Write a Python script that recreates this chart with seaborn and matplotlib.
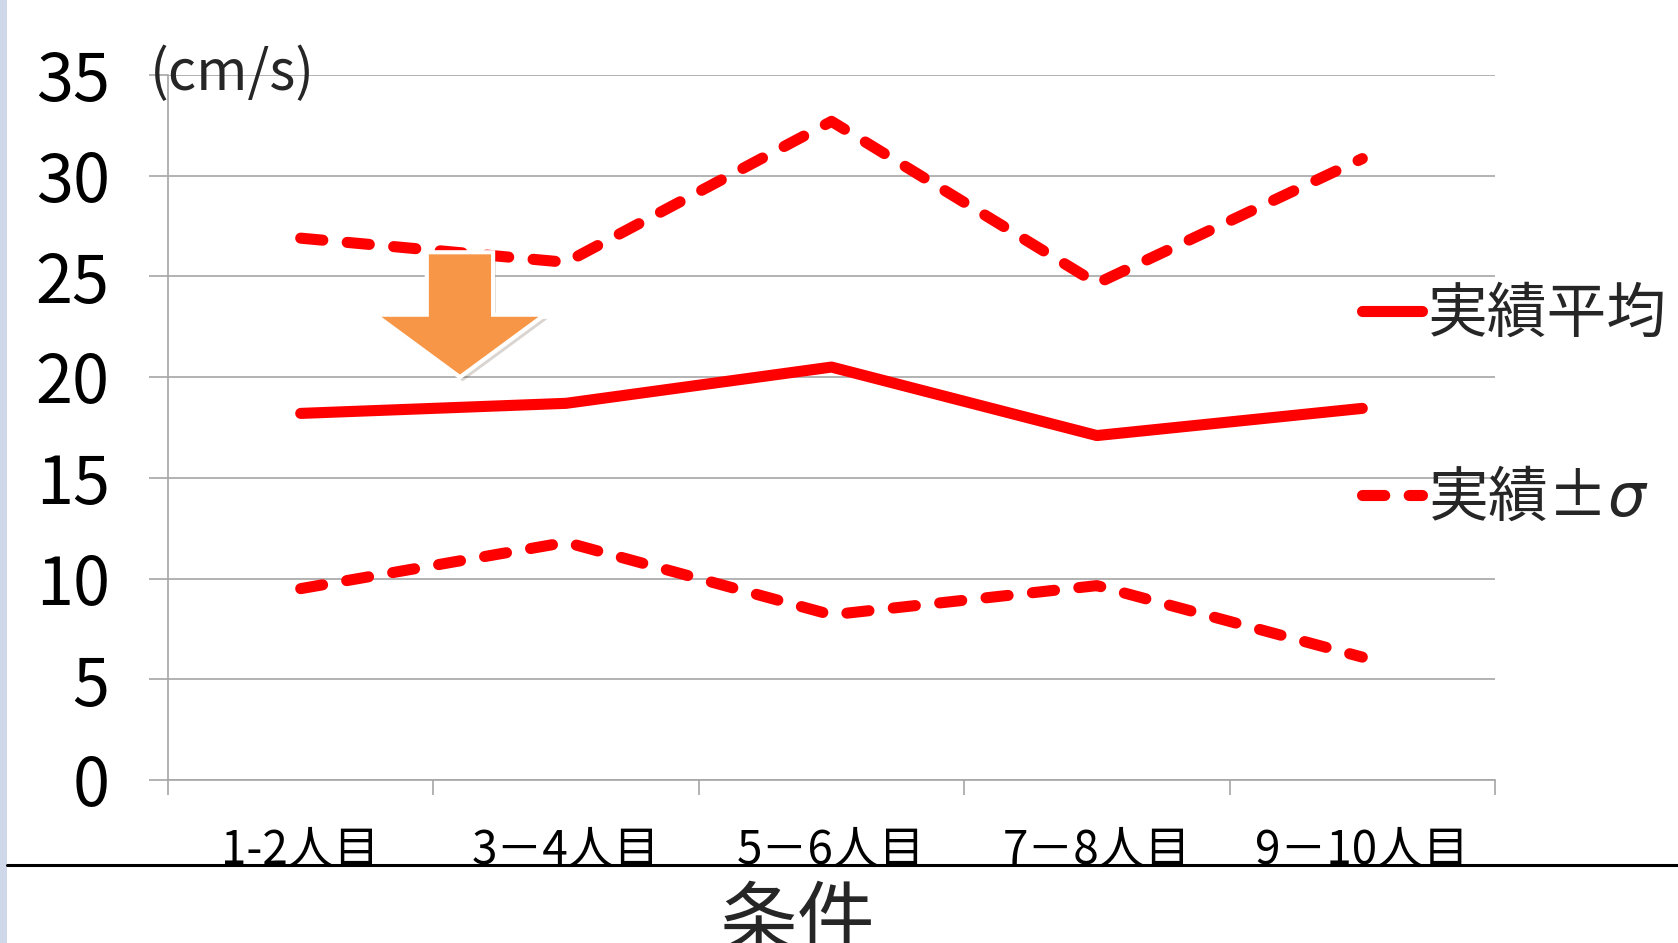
"""
Walking speed by order of arrival: mean and +/- sigma band.
"""

import matplotlib
matplotlib.use("Agg")
import matplotlib.pyplot as plt
import matplotlib.patheffects as pe
from matplotlib.lines import Line2D
from matplotlib.patches import FancyArrow, Rectangle
import numpy as np
import pandas as pd
import seaborn as sns

# ── Data ────────────────────────────────────────────────────────────────────
categories = ["1-2人目", "3－4人目", "5－6人目", "7－8人目", "9－10人目"]
mean_speed = [18.2, 18.7, 20.5, 17.1, 18.45]
upper_speed = [26.9, 25.7, 32.7, 24.65, 30.85]
lower_speed = [9.5, 11.8, 8.2, 9.65, 6.1]
y_ticks = [0, 5, 10, 15, 20, 25, 30, 35]

RED = "#FF0000"
GRID = "#A6A6A6"

sns.set_theme(style="white")
plt.rcParams["font.family"] = ["Noto Sans CJK JP", "DejaVu Sans"]
plt.rcParams["mathtext.fontset"] = "dejavusans"

W, H = 1678, 943
fig = plt.figure(figsize=(W / 100, H / 100), dpi=100)
ax = fig.add_axes([168 / W, 1 - 780 / H, (1495 - 168) / W, (780 - 75) / H])

df = pd.DataFrame({
    "x": np.arange(len(categories)),
    "mean": mean_speed,
    "upper": upper_speed,
    "lower": lower_speed,
})

sns.lineplot(data=df, x="x", y="mean", ax=ax, color=RED, lw=8,
             solid_capstyle="round", label="実績平均")
dash = dict(color=RED, lw=8, ls=(0, (2.0, 2.2)), dash_capstyle="round")
sns.lineplot(data=df, x="x", y="upper", ax=ax, label="実績±$\\sigma$", **dash)
sns.lineplot(data=df, x="x", y="lower", ax=ax, label="_nolegend_", **dash)

# axes / grid
ax.set_xlim(-0.5, len(categories) - 0.5)
ax.set_ylim(0, 35)
ax.set_yticks(y_ticks)
ax.set_yticklabels([str(v) for v in y_ticks])
ax.yaxis.grid(True, color=GRID, lw=1.2)
ax.set_axisbelow(True)
ax.set_xticks(np.arange(-0.5, len(categories)))
ax.set_xticklabels([])
ax.set_xticks(np.arange(len(categories)), categories, minor=True)
ax.tick_params(axis="x", which="major", direction="out", length=11,
               width=1.2, color=GRID, bottom=True)
ax.tick_params(axis="x", which="minor", length=0, pad=33, labelsize=33,
               labelcolor="black")
ax.tick_params(axis="y", direction="out", length=14, width=1.2, color=GRID,
               left=True, pad=28, labelsize=48, labelcolor="black")
for side in ["top", "right"]:
    ax.spines[side].set_visible(False)
for side in ["left", "bottom"]:
    ax.spines[side].set_color(GRID)
    ax.spines[side].set_linewidth(1.2)
ax.set_xlabel("")
ax.set_ylabel("")

# orange "down" arrow
arrow = FancyArrow(0.6, 26.2, 0, -6.2, width=0.25, head_width=0.64,
                   head_length=3.1, length_includes_head=True,
                   facecolor="#F79646", edgecolor="white", lw=3, zorder=5,
                   path_effects=[pe.SimplePatchShadow(offset=(2, -3), alpha=0.2),
                                 pe.Normal()])
ax.add_patch(arrow)

# legend
ax.legend(loc="upper left", bbox_to_anchor=(1362 / W, 1 - 285 / H),
          bbox_transform=fig.transFigure, frameon=False, fontsize=43,
          handlelength=1.0, handletextpad=0.1, labelspacing=2.05,
          borderpad=0, borderaxespad=0)

# unit label and axis title
fig.text(150 / W, 1 - 74 / H, "(cm/s)", fontsize=40, ha="left", va="center")
fig.text(797 / W, 1 - 884 / H, "条件", fontsize=56, ha="center", va="top")

# slide decorations: left strip and horizontal rule
fig.add_artist(Rectangle((0, 0), 7 / W, 1, transform=fig.transFigure,
                         facecolor="#CFD8E8", edgecolor="none"))
fig.add_artist(Line2D([7 / W, 1], [1 - 865 / H, 1 - 865 / H],
                      transform=fig.transFigure, color="black", lw=2.2))

fig.savefig("out.png", dpi=100)
